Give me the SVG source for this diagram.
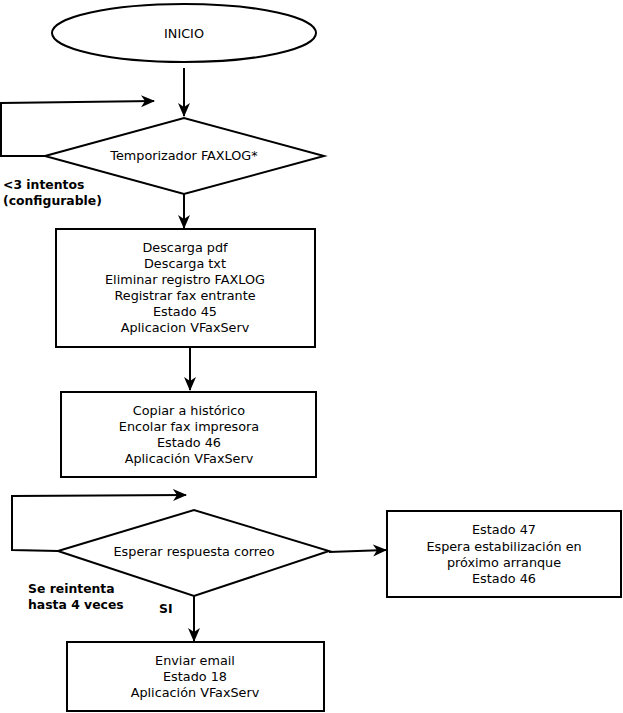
<svg xmlns="http://www.w3.org/2000/svg" width="623" height="713" viewBox="0 0 623 713">
<defs>
<marker id="ah" markerWidth="14" markerHeight="14" refX="13" refY="6" orient="auto" markerUnits="userSpaceOnUse" viewBox="0 0 14 12">
<path d="M0,0 L14,6 L0,12 L4,6 Z" fill="#000"/>
</marker>
</defs>
<style>
.s{fill:#fff;stroke:#000;stroke-width:2}
.c{fill:none;stroke:#000;stroke-width:2}
.t{font-family:"DejaVu Sans",sans-serif;font-size:12.8px;fill:#000;text-anchor:middle}
.b{font-family:"DejaVu Sans",sans-serif;font-size:12.4px;font-weight:bold;fill:#000}
</style>
<rect width="623" height="713" fill="#fff"/>
<g id="connectors">
<path class="c" d="M184,68 L184,116" marker-end="url(#ah)"/>
<path class="c" d="M45,156 L1,156 L1,103 L154,101" marker-end="url(#ah)"/>
<path class="c" d="M184,194 L184,228" marker-end="url(#ah)"/>
<path class="c" d="M190,347 L190,390" marker-end="url(#ah)"/>
<path class="c" d="M58,551 L12,550 L12,496 L186,495" marker-end="url(#ah)"/>
<path class="c" d="M329,552 L386,550" marker-end="url(#ah)"/>
<path class="c" d="M194,596 L194,641" marker-end="url(#ah)"/>
</g>
<g id="inicio">
<ellipse class="s" cx="184" cy="33" rx="132" ry="29"/>
<text class="t" x="184" y="38">INICIO</text>
</g>
<g id="temporizador">
<polygon class="s" points="45,156 184,118 324,156 184,194"/>
<text class="t" x="184" y="160">Temporizador FAXLOG*</text>
</g>
<g id="label-intentos">
<text class="b" x="3" y="189">&lt;3 intentos</text>
<text class="b" x="3" y="205">(configurable)</text>
</g>
<g id="descarga">
<rect class="s" x="56" y="229" width="259" height="118"/>
<text class="t" x="185" y="252">Descarga pdf</text>
<text class="t" x="185" y="268">Descarga txt</text>
<text class="t" x="185" y="284">Eliminar registro FAXLOG</text>
<text class="t" x="185" y="300">Registrar fax entrante</text>
<text class="t" x="185" y="316">Estado 45</text>
<text class="t" x="185" y="332">Aplicacion VFaxServ</text>
</g>
<g id="copiar">
<rect class="s" x="61" y="392" width="255" height="85"/>
<text class="t" x="189" y="415">Copiar a histórico</text>
<text class="t" x="189" y="431">Encolar fax impresora</text>
<text class="t" x="189" y="447">Estado 46</text>
<text class="t" x="189" y="463">Aplicación VFaxServ</text>
</g>
<g id="esperar">
<polygon class="s" points="58,551 194,510 329,551 194,596"/>
<text class="t" x="194" y="556">Esperar respuesta correo</text>
</g>
<g id="label-reintenta">
<text class="b" x="28" y="593">Se reintenta</text>
<text class="b" x="28" y="609">hasta 4 veces</text>
</g>
<g id="label-si">
<text class="b" x="159" y="613">SI</text>
</g>
<g id="estado47">
<rect class="s" x="387" y="511" width="234" height="86"/>
<text class="t" x="504" y="534">Estado 47</text>
<text class="t" x="504" y="551">Espera estabilización en</text>
<text class="t" x="504" y="567">próximo arranque</text>
<text class="t" x="504" y="583">Estado 46</text>
</g>
<g id="enviar">
<rect class="s" x="67" y="642" width="257" height="69"/>
<text class="t" x="195" y="665">Enviar email</text>
<text class="t" x="195" y="681">Estado 18</text>
<text class="t" x="195" y="697">Aplicación VFaxServ</text>
</g>
</svg>
